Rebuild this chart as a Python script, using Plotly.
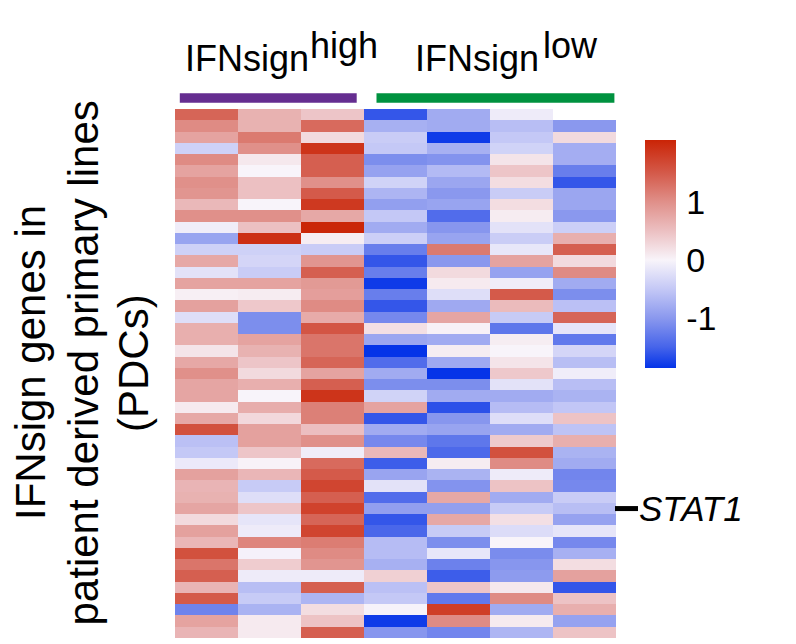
import plotly.graph_objects as go

# ---------------- data ----------------
samples = ["H1", "H2", "H3", "L1", "L2", "L3", "L4"]
genes = ["g%02d" % i for i in range(1, 48)]
stat1_index = 35  # STAT1 is row 36 (0-based 35)

H1 = [1.4, 1.05, 0.8, -0.4, 1.05, 0.8, 1.0, 0.95, 0.58, 1.0, -0.08, -0.88, -0.4, 0.75, -0.2, 0.8,
      0.05, 0.82, -0.25, 0.68, 0.68, 0.15, 0.75, 1.0, 0.78, 0.78, 0.1, 0.75, 1.6, -0.58, -0.5, -0.12,
      0.82, 0.62, 0.65, 0.78, 0.25, 0.82, 0.6, 1.6, 1.25, 1.45, 0.62, 1.5, -1.2, 0.8, 0.62]
H2 = [0.65, 0.65, 1.2, 1.0, 0.12, 0.0, 0.5, 0.5, 0.0, 1.0, 0.5, 1.95, -0.4, -0.35, -0.45, 0.8,
      0.08, 0.42, -1.1, -1.1, 0.8, 0.65, 0.45, 0.25, 0.68, 0.0, 0.7, 0.27, 0.82, 0.82, 0.45, 0.02,
      0.6, -0.47, -0.25, 0.45, -0.17, -0.1, 1.1, -0.03, 0.38, -0.1, -0.6, -0.47, -0.72, 0.1, 0.1]
H3 = [0.45, 1.35, 0.25, 1.9, 1.45, 1.45, 1.0, 1.5, 1.85, 0.75, 2.05, 0.07, -0.45, 0.95, 1.45, 0.9,
      0.85, 1.05, 0.72, 1.55, 1.25, 1.25, 1.4, 0.8, 1.45, 1.9, 1.15, 1.15, 0.52, 1.0, -0.08, 1.35,
      1.5, 1.72, 1.45, 1.75, 1.4, 1.72, 1.18, 1.05, 0.95, -0.1, 1.45, -0.7, 0.22, 0.47, 1.45]
L1 = [-1.6, -0.75, -0.45, -0.5, -1.1, -0.9, -0.38, -0.7, -0.93, -0.5, -0.8, -0.42, -1.25, -1.6, -1.25, -1.8,
      -1.25, -1.6, -1.15, 0.2, -0.85, -1.95, -1.42, -0.8, -1.1, -0.38, 0.8, -1.6, -0.8, -1.15, 0.58, -1.55,
      -0.87, -0.2, -1.42, -0.93, -1.6, -1.47, -0.62, -0.62, -0.75, 0.35, -0.58, -0.5, -0.02, -1.8, -1.02]
L2 = [-0.8, -0.8, -1.8, -0.75, -1.05, -0.65, -0.85, -1.0, -0.88, -1.42, -1.02, -0.88, 1.2, -1.0, 0.25, 0.1,
      -0.25, -0.82, 0.78, 0.03, -0.8, 0.07, -0.82, -1.85, -1.1, -0.8, -1.65, -1.02, -0.88, -1.32, -1.45, 0.08,
      -0.72, -1.05, 0.75, -0.93, 0.75, -0.47, -1.1, -0.15, -1.22, -1.55, 0.45, -1.3, 1.8, 1.05, -1.18]
L3 = [-0.1, -0.6, -0.5, -0.38, 0.15, 0.45, 0.22, -0.45, 0.22, 0.08, -0.2, -0.44, -0.15, 0.8, -0.9, -0.08,
      1.5, 0.55, -0.47, -1.32, 0.07, 0.0, 0.15, 0.42, -0.2, -0.8, -0.62, -0.25, -0.8, 0.4, 1.6, 1.05,
      -0.1, 0.47, -0.8, -0.47, 0.2, -0.27, 0.0, -1.12, -1.02, -0.97, 0.12, 1.05, -0.8, 0.1, -0.7]
L4 = [None, -1.0, 0.25, -0.78, -0.78, -1.25, -1.6, -0.85, -0.85, -1.0, -0.42, 0.68, 1.45, 0.25, 1.05, -0.8,
      -1.1, -0.58, 1.4, -0.17, -1.3, -0.35, -0.6, -0.08, -0.6, -0.72, -0.52, 0.47, -0.55, 0.68, -0.72, -0.8,
      -1.18, -1.15, -0.45, -0.6, -0.9, -0.17, -1.15, -0.75, 0.22, 0.82, -1.6, 0.47, 0.68, -0.9, 0.47]

columns = [H1, H2, H3, L1, L2, L3, L4]
z = [[col[r] for col in columns] for r in range(len(genes))]

zmin, zmax = -1.86, 2.07
cbar_ticks = [-1, 0, 1]
group_labels = [("IFNsign", "high"), ("IFNsign", "low")]
ytitle_lines = ["IFNsign genes in", "patient derived primary lines", "(PDCs)"]
highlight_gene = "STAT1"

# ---------------- styling / layout ----------------
# page has an 8px body margin; figure coordinates = page coordinates - 8
OFF = 8
W, H = 788, 636
ML, MT = 175 - OFF, 109 - OFF
MR = W - (616 - OFF)
MB = H - (638 - OFF)
PW, PH = W - ML - MR, H - MT - MB


def px(x):
    return (x - OFF - ML) / PW


def py(y):
    return (H - MB - (y - OFF)) / PH


def frac(v):
    return (v - zmin) / (zmax - zmin)


colorscale = [
    [0.0, "#0433E8"],
    [frac(-1.5), "#4664EA"],
    [frac(-1.0), "#8A98EE"],
    [frac(-0.5), "#C4C8F6"],
    [frac(0.0), "#F8F4FA"],
    [frac(0.5), "#ECC0C2"],
    [frac(1.0), "#E0908A"],
    [frac(1.5), "#D45A4A"],
    [1.0, "#CA2406"],
]

FONT = "Liberation Sans, Arial, sans-serif"

fig = go.Figure()
fig.add_trace(go.Heatmap(
    z=z,
    x=list(range(len(samples))),
    y=list(range(len(genes))),
    zmin=zmin, zmax=zmax,
    colorscale=colorscale,
    hoverongaps=False,
    xgap=0, ygap=0,
    colorbar=dict(
        x=px(645), xanchor="left", xpad=0,
        y=py(254), yanchor="middle", ypad=0,
        lenmode="pixels", len=228,
        thicknessmode="pixels", thickness=31,
        outlinewidth=0,
        tickvals=cbar_ticks,
        ticktext=[str(t) for t in cbar_ticks],
        ticks="outside", ticklen=4, tickcolor="rgba(0,0,0,0)",
        tickfont=dict(size=34, color="black", family=FONT),
    ),
))

annotations = []
# group header labels
hdr = [(182.5, 308.0), (412.5, 540.5)]
for (main, sup), (xm, xs) in zip(group_labels, hdr):
    annotations.append(dict(text=main, x=px(xm), y=py(58.5), xref="paper", yref="paper",
                            xanchor="left", yanchor="middle", showarrow=False,
                            font=dict(size=36, color="black", family=FONT)))
    annotations.append(dict(text=sup, x=px(xs), y=py(45.5), xref="paper", yref="paper",
                            xanchor="left", yanchor="middle", showarrow=False,
                            font=dict(size=36, color="black", family=FONT)))

# y title (three rotated lines)
for line, xc in zip(ytitle_lines, [30.0, 82.5, 133.0]):
    annotations.append(dict(text=line, x=px(xc), y=py(363), xref="paper", yref="paper",
                            xanchor="center", yanchor="middle", textangle=-90, showarrow=False,
                            borderpad=0,
                            font=dict(size=42, color="black", family=FONT)))

# STAT1 label
annotations.append(dict(text="<i>%s</i>" % highlight_gene, x=px(637), y=stat1_index,
                        xref="paper", yref="y", xanchor="left", yanchor="middle",
                        showarrow=False, font=dict(size=35, color="black", family=FONT)))

shapes = [
    dict(type="rect", xref="paper", yref="paper", x0=px(179.8), x1=px(356.7),
         y0=py(102.7), y1=py(93.3), fillcolor="#652D90", line=dict(width=0)),
    dict(type="rect", xref="paper", yref="paper", x0=px(376.5), x1=px(614.4),
         y0=py(102.7), y1=py(93.3), fillcolor="#00923F", line=dict(width=0)),
    dict(type="line", xref="paper", yref="y", x0=px(615), x1=px(638),
         y0=stat1_index, y1=stat1_index, line=dict(color="black", width=5)),
]

fig.update_layout(
    width=W, height=H,
    margin=dict(l=ML, r=MR, t=MT, b=MB, pad=0),
    paper_bgcolor="white", plot_bgcolor="white",
    xaxis=dict(range=[-0.5, len(samples) - 0.5], visible=False, fixedrange=True),
    yaxis=dict(range=[len(genes) - 0.5, -0.5], visible=False, fixedrange=True),
    annotations=annotations,
    shapes=shapes,
    font=dict(family=FONT, color="black"),
)

fig.write_html("out.html")
